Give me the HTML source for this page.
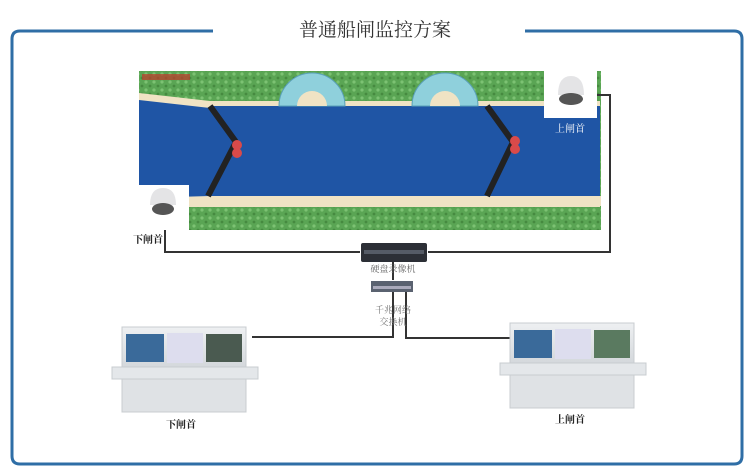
<!DOCTYPE html>
<html><head><meta charset="utf-8"><style>
html,body{margin:0;padding:0;background:#fff;}
svg{display:block;}
text{font-family:"Liberation Serif","Noto Serif CJK SC",serif;}
</style></head><body>
<svg width="752" height="474" viewBox="0 0 752 474" xmlns="http://www.w3.org/2000/svg">
<defs>
<pattern id="grass" width="8" height="8" patternUnits="userSpaceOnUse">
<rect width="8" height="8" fill="#5aa554"/><circle cx="2" cy="2" r="1.6" fill="#7cc273"/><circle cx="6" cy="6" r="1.4" fill="#468a40"/>
</pattern>
<linearGradient id="cons" x1="0" y1="0" x2="0" y2="1"><stop offset="0" stop-color="#eef0f2"/><stop offset="1" stop-color="#d4d8dc"/></linearGradient>
</defs>
<path d="M213 31 H20 Q12 31 12 39 V456 Q12 464 20 464 H734 Q742 464 742 456 V39 Q742 31 734 31 H525" fill="none" stroke="#2f6ea6" stroke-width="3"/>
<text x="375" y="36" font-size="19" text-anchor="middle" fill="#333">普通船闸监控方案</text>

<rect x="139" y="71" width="462" height="159" fill="url(#grass)"/>
<polygon points="139,93 210,101 600,101 600,207 485,207 210,207 139,207" fill="#f0e3c4"/>
<polygon points="139,100 210,108 600,108 600,196 210,196 139,198" fill="#1f55a5"/>
<rect x="210" y="106" width="390" height="90" fill="#1f55a5"/>
<rect x="560" y="196" width="41" height="10" fill="#f0e3c4"/>
<path d="M279 106 A33 33 0 0 1 345 106 Z" fill="#8fd0dc" stroke="#5aa0b8"/>
<path d="M297 106 A15 15 0 0 1 327 106 Z" fill="#f0e3c4"/>
<path d="M412 106 A33 33 0 0 1 478 106 Z" fill="#8fd0dc" stroke="#5aa0b8"/>
<path d="M430 106 A15 15 0 0 1 460 106 Z" fill="#f0e3c4"/>
<polyline points="210,106 236,142 208,196" fill="none" stroke="#222" stroke-width="6"/>
<polyline points="487,106 513,142 487,196" fill="none" stroke="#222" stroke-width="6"/>
<circle cx="237" cy="145" r="5" fill="#d94a4a"/><circle cx="237" cy="153" r="5" fill="#d94a4a"/>
<circle cx="515" cy="141" r="5" fill="#d94a4a"/><circle cx="515" cy="149" r="5" fill="#d94a4a"/>
<rect x="142" y="74" width="48" height="6" fill="#c0392b" opacity=".7"/>
<rect x="544" y="70" width="53" height="48" fill="#fff"/>
<path d="M558 95 Q558 76 571 76 Q584 76 584 95 Z" fill="#e4e4e6"/>
<ellipse cx="571" cy="99" rx="12" ry="6" fill="#555"/>
<text x="570" y="132" font-size="10" text-anchor="middle" fill="#fff">上闸首</text>
<rect x="139" y="185" width="50" height="45" fill="#fff"/>
<path d="M150 205 Q150 188 163 188 Q176 188 176 205 Z" fill="#e4e4e6"/>
<ellipse cx="163" cy="209" rx="11" ry="6" fill="#555"/>
<text x="148" y="243" font-size="10" text-anchor="middle" fill="#222" font-weight="bold">下闸首</text>

<g fill="none" stroke="#333" stroke-width="2">
<polyline points="597,95 610,95 610,252 428,252"/>
<polyline points="165,230 165,252 360,252"/>
<line x1="393" y1="262" x2="393" y2="280"/>
<polyline points="393,292 393,337 252,337"/>
<polyline points="406,292 406,338 516,338"/>
</g>
<rect x="361" y="243" width="66" height="19" rx="2" fill="#2c2f36"/>
<rect x="364" y="250" width="60" height="4" fill="#555b66"/>
<text x="393" y="272" font-size="9" text-anchor="middle" fill="#666">硬盘录像机</text>
<rect x="371" y="281" width="42" height="11" fill="#5a6270"/>
<rect x="373" y="286" width="38" height="3" fill="#aab"/>
<text x="393" y="313" font-size="9" text-anchor="middle" fill="#777">千兆网络</text>
<text x="393" y="325" font-size="9" text-anchor="middle" fill="#777">交换机</text>

<g>
<rect x="122" y="327" width="124" height="40" fill="url(#cons)" stroke="#c8ccd0"/>
<rect x="126" y="334" width="38" height="28" fill="#3a6a9a"/>
<rect x="167" y="333" width="36" height="30" fill="#dde"/>
<rect x="206" y="334" width="36" height="28" fill="#4a5a50"/>
<rect x="112" y="367" width="146" height="12" fill="#e4e7ea" stroke="#c8ccd0"/>
<rect x="122" y="379" width="124" height="33" fill="#dfe2e5" stroke="#c8ccd0"/>
</g>
<g>
<rect x="510" y="323" width="124" height="40" fill="url(#cons)" stroke="#c8ccd0"/>
<rect x="514" y="330" width="38" height="28" fill="#3a6a9a"/>
<rect x="555" y="329" width="36" height="30" fill="#dde"/>
<rect x="594" y="330" width="36" height="28" fill="#5a7a60"/>
<rect x="500" y="363" width="146" height="12" fill="#e4e7ea" stroke="#c8ccd0"/>
<rect x="510" y="375" width="124" height="33" fill="#dfe2e5" stroke="#c8ccd0"/>
</g>
<text x="181" y="428" font-size="10" text-anchor="middle" fill="#222" font-weight="bold">下闸首</text>
<text x="570" y="423" font-size="10" text-anchor="middle" fill="#222" font-weight="bold">上闸首</text>
</svg>
</body></html>
